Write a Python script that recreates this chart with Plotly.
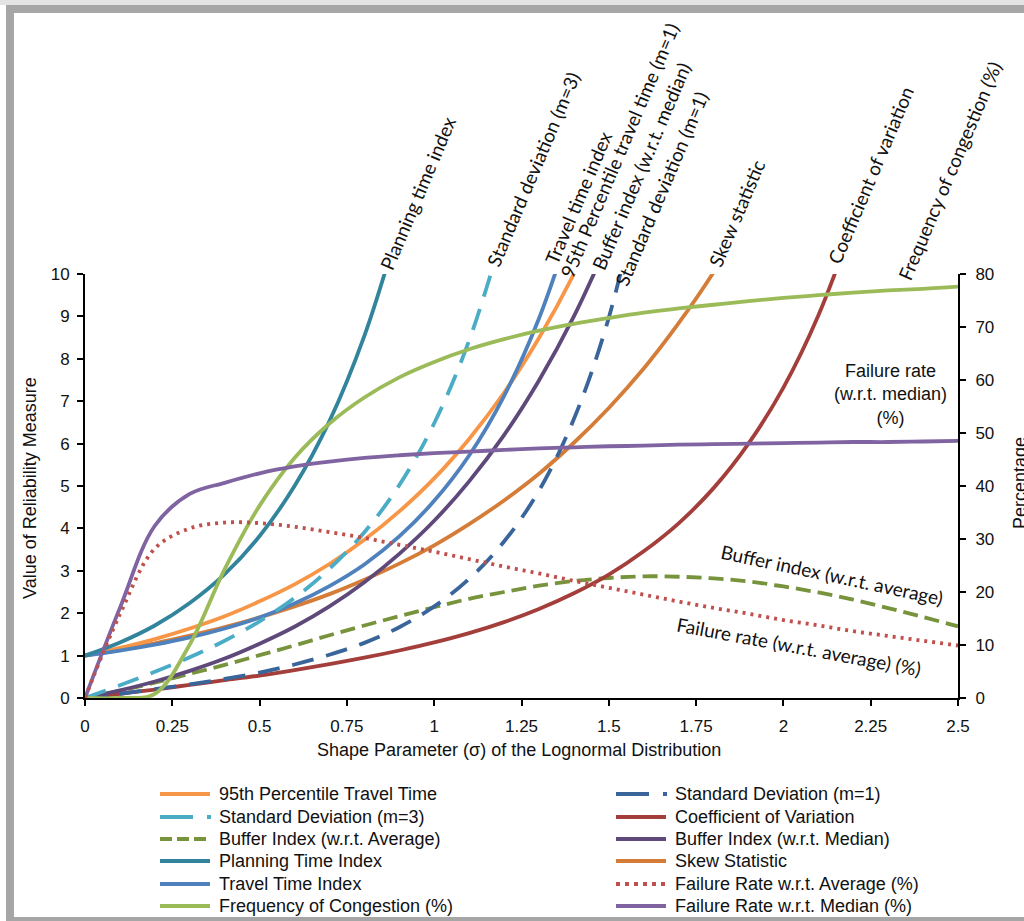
import plotly.graph_objects as go

# ---------------------------------------------------------------- data
# shape parameter sigma of the lognormal travel-time distribution
sigma_full = [0.0, 0.1, 0.2, 0.3, 0.4, 0.5, 0.6, 0.7, 0.8, 0.9, 1.0, 1.1, 1.2,
              1.3, 1.4, 1.5, 1.6, 1.7, 1.8, 1.9, 2.0, 2.1, 2.2, 2.3, 2.4, 2.5]

# reliability measures (left axis)
p95_travel_time = [1.00, 1.18, 1.39, 1.64, 1.93, 2.28, 2.68, 3.16, 3.73, 4.40,
                   5.18, 6.11, 7.20, 8.49, 10.00, 11.79]
sd_m3 = [0.00, 0.30, 0.62, 0.96, 1.35, 1.81, 2.36, 3.05, 3.91, 5.02, 6.48, 8.43, 11.06]
buffer_index_avg = [0.00, 0.17, 0.36, 0.57, 0.78, 1.01, 1.24, 1.48, 1.71, 1.93, 2.14,
                    2.34, 2.50, 2.65, 2.76, 2.83, 2.87, 2.86, 2.82, 2.75, 2.63, 2.49,
                    2.32, 2.12, 1.91, 1.69]
planning_time_index = [1.00, 1.31, 1.71, 2.24, 2.92, 3.82, 5.00, 6.53, 8.54, 11.17]
travel_time_index = [1.00, 1.12, 1.26, 1.43, 1.64, 1.90, 2.23, 2.64, 3.15, 3.81, 4.65,
                     5.72, 7.12, 8.95, 11.36]
sd_m1 = [0.00, 0.10, 0.21, 0.32, 0.45, 0.60, 0.79, 1.02, 1.30, 1.67, 2.16, 2.81, 3.69,
         4.89, 6.58, 8.97, 12.43]
coef_variation = [0.00, 0.10, 0.20, 0.31, 0.42, 0.53, 0.66, 0.80, 0.95, 1.12, 1.31,
                  1.53, 1.79, 2.10, 2.47, 2.91, 3.46, 4.12, 4.95, 6.00, 7.32, 9.02, 11.20]
buffer_index_median = [0.00, 0.18, 0.39, 0.64, 0.93, 1.28, 1.68, 2.16, 2.73, 3.40, 4.18,
                       5.11, 6.20, 7.49, 9.00, 10.79]
skew_statistic = [1.00, 1.14, 1.29, 1.47, 1.67, 1.90, 2.16, 2.45, 2.79, 3.17, 3.60, 4.10,
                  4.66, 5.29, 6.02, 6.84, 7.77, 8.84, 10.04, 11.42]

# percentages (right axis)
freq_congestion = [0.0, 0.0, 0.8, 10.1, 24.3, 36.3, 45.3, 51.8, 56.7, 60.5, 63.4, 65.8,
                   67.7, 69.3, 70.6, 71.7, 72.7, 73.5, 74.2, 74.9, 75.5, 76.0, 76.5,
                   76.9, 77.2, 77.6]
failure_rate_avg = [0.0, 15.8, 28.2, 32.0, 33.1, 33.0, 32.3, 31.3, 30.2, 28.9, 27.6,
                    26.2, 24.8, 23.5, 22.1, 20.8, 19.5, 18.2, 17.0, 15.9, 14.7, 13.7,
                    12.6, 11.7, 10.8, 9.9]
failure_rate_median = [0.0, 17.0, 32.5, 38.5, 40.6, 42.4, 43.7, 44.6, 45.3, 45.8, 46.2,
                       46.5, 46.8, 47.1, 47.3, 47.5, 47.6, 47.8, 47.9, 48.0, 48.1, 48.2,
                       48.3, 48.3, 48.4, 48.5]

x_ticks = [0, 0.25, 0.5, 0.75, 1, 1.25, 1.5, 1.75, 2, 2.25, 2.5]
x_tick_text = ["0", "0.25", "0.5", "0.75", "1", "1.25", "1.5", "1.75", "2", "2.25", "2.5"]
y_ticks = list(range(0, 11))
y2_ticks = list(range(0, 81, 10))

# ---------------------------------------------------------------- styling
W, H = 1024, 921
L, R, T, B = 85, 66, 274, 223
LW = 3.8

C_P95 = "#F79646"
C_SD3 = "#4BACC6"
C_BIA = "#77933C"
C_PTI = "#31849B"
C_TTI = "#4F81BD"
C_FOC = "#9BBB59"
C_SD1 = "#3A659B"
C_COV = "#A33E3B"
C_BIM = "#5F497A"
C_SKW = "#D57D38"
C_FRA = "#C0504D"
C_FRM = "#8064A2"

DASH_SD = "22px,13px"
DASH_BI = "15px,7px"
DASH_DOT = "3px,5px"

# (name, values, axis, colour, dash, legend column, legend row)
series = [
    ("Frequency of Congestion (%)", freq_congestion, "y2", C_FOC, "solid", 0, 5),
    ("Failure Rate w.r.t. Median (%)", failure_rate_median, "y2", C_FRM, "solid", 1, 5),
    ("Failure Rate w.r.t. Average (%)", failure_rate_avg, "y2", C_FRA, DASH_DOT, 1, 4),
    ("Buffer Index (w.r.t. Average)", buffer_index_avg, "y", C_BIA, DASH_BI, 0, 2),
    ("Coefficient of Variation", coef_variation, "y", C_COV, "solid", 1, 1),
    ("Skew Statistic", skew_statistic, "y", C_SKW, "solid", 1, 3),
    ("Standard Deviation (m=1)", sd_m1, "y", C_SD1, DASH_SD, 1, 0),
    ("Buffer Index (w.r.t. Median)", buffer_index_median, "y", C_BIM, "solid", 1, 2),
    ("95th Percentile Travel Time", p95_travel_time, "y", C_P95, "solid", 0, 0),
    ("Travel Time Index", travel_time_index, "y", C_TTI, "solid", 0, 4),
    ("Standard Deviation (m=3)", sd_m3, "y", C_SD3, DASH_SD, 0, 1),
    ("Planning Time Index", planning_time_index, "y", C_PTI, "solid", 0, 3),
]

fig = go.Figure()
for name, vals, ax, col, dash, _, _ in series:
    fig.add_trace(go.Scatter(
        x=sigma_full[:len(vals)], y=vals, yaxis=ax, name=name, mode="lines",
        line=dict(color=col, width=LW, dash=dash, shape="spline", smoothing=1.0),
        showlegend=False, hoverinfo="x+y+name",
    ))


def px_x(px):
    return (px - L) / (W - L - R)


def px_y(py):
    return (H - B - py) / (H - T - B)


shapes = []
annotations = []

# frame around the figure
FRAME = "#A6A6A6"
for x0, y0, x1, y1, col in [(0, 0, 1024, 5, "#E3E3E3"), (6, 5, 1024, 13, FRAME),
                            (6, 5, 14, 921, FRAME), (6, 917, 1024, 921, FRAME)]:
    shapes.append(dict(type="rect", xref="paper", yref="paper",
                       x0=px_x(x0), x1=px_x(x1), y0=px_y(y0), y1=px_y(y1),
                       fillcolor=col, line=dict(width=0), layer="above"))

SANS = "Liberation Sans, Arial, sans-serif"
TXT = "#111111"

# legend (two columns)
LEG_X = [160, 616]
LEG_Y = [794, 817, 839, 861, 884, 906]
LEG_FONT = dict(family=SANS, size=18, color=TXT)
for name, vals, ax, col, dash, c, r in series:
    x0 = LEG_X[c]
    y = px_y(LEG_Y[r])
    if dash == DASH_SD:
        shapes.append(dict(type="line", xref="paper", yref="paper",
                           x0=px_x(x0), x1=px_x(x0 + 33), y0=y, y1=y,
                           line=dict(color=col, width=4)))
        shapes.append(dict(type="line", xref="paper", yref="paper",
                           x0=px_x(x0 + 47), x1=px_x(x0 + 51), y0=y, y1=y,
                           line=dict(color=col, width=4)))
    elif dash == DASH_BI:
        shapes.append(dict(type="line", xref="paper", yref="paper",
                           x0=px_x(x0), x1=px_x(x0 + 50), y0=y, y1=y,
                           line=dict(color=col, width=4, dash="12px,5px")))
    elif dash == DASH_DOT:
        shapes.append(dict(type="line", xref="paper", yref="paper",
                           x0=px_x(x0), x1=px_x(x0 + 52), y0=y, y1=y,
                           line=dict(color=col, width=4, dash="4px,5px")))
    else:
        shapes.append(dict(type="line", xref="paper", yref="paper",
                           x0=px_x(x0), x1=px_x(x0 + 50), y0=y, y1=y,
                           line=dict(color=col, width=4)))
    annotations.append(dict(xref="paper", yref="paper", x=px_x(x0 + 57), y=y,
                            text=name, showarrow=False, xanchor="left",
                            yanchor="middle", font=LEG_FONT))

# curve labels, centred on pixel positions
LBL_FONT = dict(family="Lato, Open Sans, sans-serif", size=19, color=TXT)
curve_labels = [
    ("Planning time index", 417.5, 193.5, -67),
    ("Standard deviation (m=3)", 533, 169.5, -67),
    ("Travel time index", 578.5, 198, -67),
    ("95th Percentile travel time (m=1)", 619, 150, -67),
    ("Buffer index (w.r.t. median)", 641, 166.5, -67),
    ("Standard deviation (m=1)", 661.5, 188.5, -67),
    ("Skew statistic", 736.5, 213.5, -67),
    ("Coefficient of variation", 870, 175, -67),
    ("Frequency of congestion (%)", 949, 171, -67),
    ("Buffer index (w.r.t. average)", 831.5, 574, 12),
    ("Failure rate (w.r.t. average) (%)", 799, 646.5, 10.5),
]
for text, px, py, ang in curve_labels:
    annotations.append(dict(xref="paper", yref="paper", x=px_x(px), y=px_y(py),
                            text=text, textangle=ang, showarrow=False,
                            xanchor="center", yanchor="middle", font=LBL_FONT))

AX_FONT = dict(family=SANS, size=18, color=TXT)
TICK_FONT = dict(family=SANS, size=17, color=TXT)
annotations.append(dict(xref="paper", yref="paper", x=px_x(890), y=px_y(394),
                        text="Failure rate<br>(w.r.t. median)<br>(%)",
                        showarrow=False, xanchor="center", yanchor="middle",
                        align="center", font=dict(family=SANS, size=18, color=TXT)))

# axis titles
annotations.append(dict(xref="paper", yref="paper", x=px_x(30), y=px_y(488),
                        text="Value of Reliability Measure", textangle=-90,
                        showarrow=False, xanchor="center", yanchor="middle", font=AX_FONT))
annotations.append(dict(xref="paper", yref="paper", x=px_x(519), y=px_y(750),
                        text="Shape Parameter (\u03c3) of the Lognormal Distribution",
                        showarrow=False, xanchor="center", yanchor="middle", font=AX_FONT))
annotations.append(dict(xref="paper", yref="paper", x=px_x(1020), y=px_y(483),
                        text="Percentage", textangle=-90,
                        showarrow=False, xanchor="center", yanchor="middle", font=AX_FONT))

axis_common = dict(showgrid=False, zeroline=False, showline=True, linecolor="#000000",
                   linewidth=2, ticks="outside", ticklen=6, tickwidth=1.5,
                   tickcolor="#000000", tickfont=TICK_FONT)

fig.update_layout(
    width=W, height=H,
    margin=dict(l=L, r=R, t=T, b=B, pad=0),
    paper_bgcolor="#FFFFFF", plot_bgcolor="#FFFFFF",
    xaxis=dict(range=[0, 2.5], tickvals=x_ticks, ticktext=x_tick_text,
               ticklabelstandoff=6, **axis_common),
    yaxis=dict(range=[0, 10], tickvals=y_ticks, ticklabelstandoff=4, **axis_common),
    yaxis2=dict(range=[0, 80], tickvals=y2_ticks, overlaying="y", side="right",
                ticklabelstandoff=6, **axis_common),
    shapes=shapes,
    annotations=annotations,
    showlegend=False,
)

fig.write_html("out.html")
